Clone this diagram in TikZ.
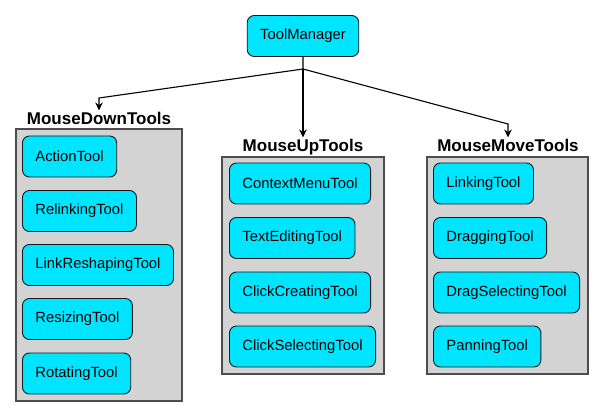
\documentclass[tikz,border=0pt]{standalone}
\usepackage{fontspec}
\setmainfont{Liberation Sans}
\usetikzlibrary{arrows.meta,positioning}
\definecolor{toolcyan}{HTML}{00E5FF}
\definecolor{groupgray}{HTML}{D3D3D3}
\definecolor{groupline}{HTML}{4D4D4D}
\tikzset{
	tool/.style={draw=black!90, fill=toolcyan, rounded corners=7pt, line width=0.9pt,
		minimum height=41pt, inner xsep=13pt, anchor=west, font=\fontsize{14.8}{16}\selectfont},
	group/.style={draw=groupline, fill=groupgray, line width=1.6pt, inner sep=0pt},
	grouptitle/.style={anchor=base, inner ysep=2pt, font=\fontsize{17}{20}\selectfont\bfseries},
	link/.style={line width=1.1pt, -{Stealth[length=8pt,width=7.5pt]}}
}
\begin{document}
\begin{tikzpicture}[x=1pt,y=-1pt]
	\useasboundingbox (0,0) rectangle (609,419);
	\node[tool, anchor=center] (manager) at (303,36) {ToolManager};
	% groups
	\node[group, minimum width=166pt, minimum height=272pt] (down) at (99,265) {};
	\node[group, minimum width=162pt, minimum height=217pt] (up) at (303,265.5) {};
	\node[group, minimum width=161pt, minimum height=217pt] (move) at (507.5,265.5) {};
	\node[grouptitle] (downtitle) at (99,125) {MouseDownTools};
	\node[grouptitle] (uptitle) at (303,152) {MouseUpTools};
	\node[grouptitle] (movetitle) at (508,152) {MouseMoveTools};
	% mouse down
	\node[tool] (action) at (22,156.5) {ActionTool};
	\node[tool] (relinking) at (22,211) {RelinkingTool};
	\node[tool] (reshaping) at (22,265) {LinkReshapingTool};
	\node[tool] (resizing) at (22,319) {ResizingTool};
	\node[tool] (rotating) at (22,373.5) {RotatingTool};
	% mouse up
	\node[tool] (contextmenu) at (229,183.5) {ContextMenuTool};
	\node[tool] (textediting) at (229,238) {TextEditingTool};
	\node[tool] (clickcreating) at (229,292.5) {ClickCreatingTool};
	\node[tool] (clickselecting) at (229,346.5) {ClickSelectingTool};
	% mouse move
	\node[tool] (linking) at (433,183.5) {LinkingTool};
	\node[tool] (dragging) at (433,238) {DraggingTool};
	\node[tool] (dragselecting) at (433,292.5) {DragSelectingTool};
	\node[tool] (panning) at (433,346.5) {PanningTool};
	% links
	\coordinate (fork) at (303,69);
	\coordinate (downbend) at (99,98);
	\coordinate (movebend) at (508,124);
	\draw[link] (manager.south) -- (fork) -- (downbend) -- (downtitle.north);
	\draw[link] (fork) -- (uptitle.north);
	\draw[link] (fork) -- (movebend) -- (movetitle.north);
\end{tikzpicture}
\end{document}
